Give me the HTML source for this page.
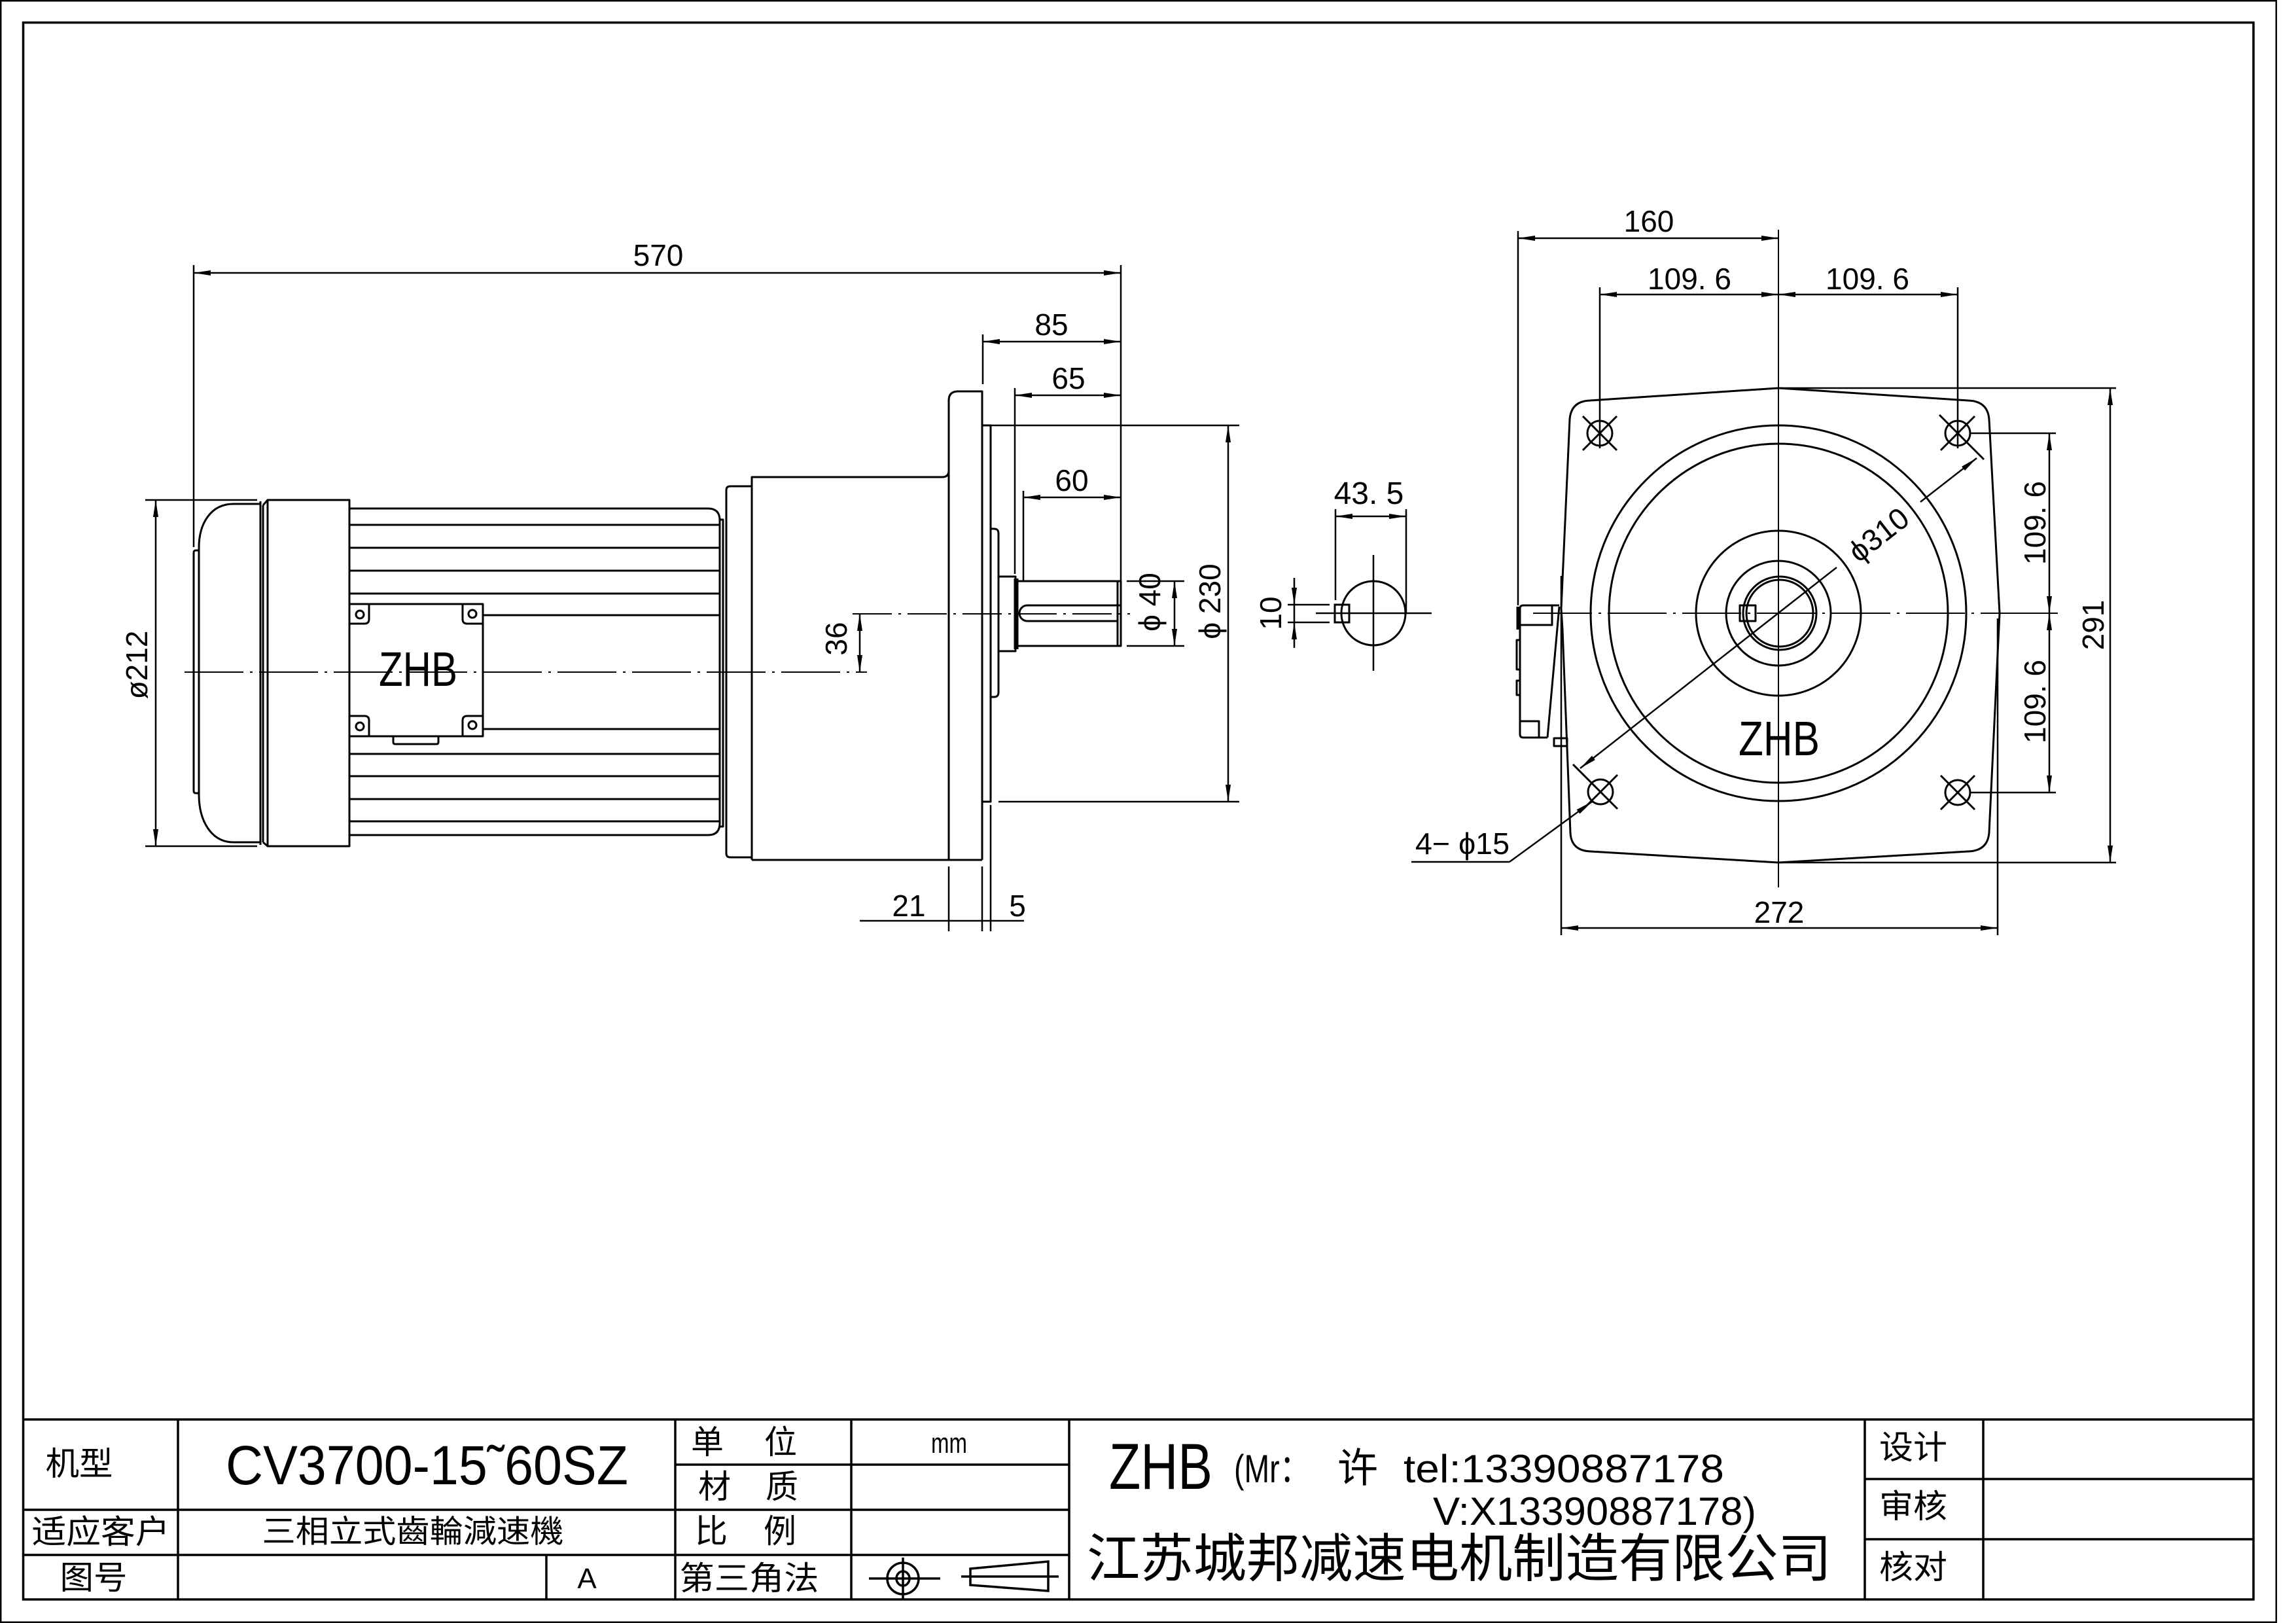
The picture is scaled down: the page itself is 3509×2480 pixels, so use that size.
<!DOCTYPE html>
<html><head><meta charset="utf-8">
<style>
html,body{margin:0;padding:0;background:#fff;}
svg{display:block;}
text{font-family:"Liberation Sans","DejaVu Sans",sans-serif;fill:#000;}
.cjk{font-family:"Liberation Sans","Noto Sans CJK SC","WenQuanYi Zen Hei",sans-serif;}
</style></head><body>
<svg width="3509" height="2480" viewBox="0 0 3509 2480" xmlns="http://www.w3.org/2000/svg">
<defs>
<marker id="a" viewBox="0 0 26 8" refX="26" refY="4" markerWidth="26" markerHeight="8" markerUnits="userSpaceOnUse" orient="auto-start-reverse"><path d="M0 0L26 4L0 8z" fill="#000"/></marker>
</defs>
<rect width="3509" height="2480" fill="#fff"/>

<!-- FRAME -->
<rect x="1.2" y="1.2" width="3477.6" height="2477.6" fill="none" stroke="#000" stroke-width="2.5"/>
<rect x="35.5" y="34.5" width="3408.5" height="2409.5" fill="none" stroke="#000" stroke-width="3.5"/>

<!-- TITLE BLOCK -->
<g stroke="#000" stroke-width="3.5" fill="none">
<path d="M35.5 2169H3444 M272 2169V2444 M835 2376V2444 M1032 2169V2444 M1301 2169V2444 M1634 2169V2444 M35.5 2307H1634 M35.5 2376H1634 M1032 2238H1634 M2850 2169V2444 M3031 2169V2444 M2850 2260H3444 M2850 2352H3444"/>
</g>
<g stroke="#000" stroke-width="3.5" fill="none">
<ellipse cx="1380" cy="2412" rx="24" ry="24"/>
<ellipse cx="1380" cy="2412" rx="10" ry="11"/>
<path d="M1328 2412H1437 M1380 2380V2443"/>
<path d="M1483 2397L1602 2386V2431L1483 2422Z M1469 2409H1618"/>
</g>
<g class="cjk" font-size="50" text-anchor="middle" dominant-baseline="central">
<text x="121" y="2237" class="cjk" textLength="103" lengthAdjust="spacingAndGlyphs">机型</text>
<text x="1081" y="2204" class="cjk">单</text>
<text x="1193" y="2204" class="cjk">位</text>
<text x="1092" y="2272" class="cjk">材</text>
<text x="1195" y="2272" class="cjk">质</text>
<text x="1087" y="2340" class="cjk">比</text>
<text x="1192" y="2340" class="cjk">例</text>
<text x="154" y="2341" class="cjk" textLength="211" lengthAdjust="spacingAndGlyphs">适应客户</text>
<text x="631" y="2341" class="cjk" font-size="48" textLength="461" lengthAdjust="spacingAndGlyphs">三相立式齒輪減速機</text>
<text x="143" y="2411" class="cjk" textLength="103" lengthAdjust="spacingAndGlyphs">图号</text>
<text x="1145" y="2412" class="cjk" textLength="213" lengthAdjust="spacingAndGlyphs">第三角法</text>
<text x="2924" y="2212" class="cjk" textLength="104" lengthAdjust="spacingAndGlyphs">设计</text>
<text x="2924" y="2302" class="cjk" textLength="104" lengthAdjust="spacingAndGlyphs">审核</text>
<text x="2924" y="2395" class="cjk" textLength="104" lengthAdjust="spacingAndGlyphs">核对</text>
<text x="2230" y="2382" class="cjk" font-size="80" textLength="1138" lengthAdjust="spacingAndGlyphs">江苏城邦减速电机制造有限公司</text>
</g>
<text x="345" y="2268" font-size="84" textLength="615" lengthAdjust="spacingAndGlyphs">CV3700-15˜60SZ</text>
<text x="1423" y="2220" font-size="44" textLength="55" lengthAdjust="spacingAndGlyphs">mm</text>
<text x="897" y="2427" font-size="44" text-anchor="middle">A</text>
<text x="1695" y="2275" font-size="99" textLength="158" lengthAdjust="spacingAndGlyphs">ZHB</text>
<text x="1886" y="2265" font-size="60" class="cjk" textLength="116" lengthAdjust="spacingAndGlyphs">(Mr：</text>
<text x="2075" y="2244" font-size="62" class="cjk" text-anchor="middle" dominant-baseline="central">许</text>
<text x="2145" y="2265" font-size="60" textLength="490" lengthAdjust="spacingAndGlyphs">tel:13390887178</text>
<text x="2190" y="2330" font-size="60" textLength="494" lengthAdjust="spacingAndGlyphs">V:X13390887178)</text>

<!-- ================= LEFT VIEW ================= -->
<g stroke="#000" stroke-width="3" fill="none" stroke-linejoin="round">
<!-- fan cover -->
<path d="M304 841H299Q296 841 296 845V1208Q296 1212 299 1212H304"/>
<path d="M397 770H357C322 770 304 800 304 837V1214C304 1253 322 1287 357 1287H397"/>
<path d="M398 766V1291 M402 772V1287 M402 772L409 764 M402 1287L409 1293"/>
<rect x="409" y="764" width="125" height="529"/>
<!-- motor body -->
<path d="M534 777H1082Q1100 777 1100 795V1258Q1100 1276 1082 1276H534"/>
<path d="M534 802H1100 M534 837H1100 M534 872H1100 M534 907H1100 M738 940H1100 M738 1114H1100 M534 1152H1100 M534 1186H1100 M534 1221H1100 M534 1255H1100"/>
<path d="M1100 794H1105V1263H1100"/>
<!-- terminal box -->
<path d="M534 923H738V1125H534Z"/>
<path d="M534 953H557Q564 953 564 946V923"/>
<path d="M738 953H714Q707 953 707 946V923"/>
<path d="M534 1094H557Q564 1094 564 1101V1125"/>
<path d="M738 1094H714Q707 1094 707 1101V1125"/>
<circle cx="550" cy="939" r="6"/>
<circle cx="722" cy="938" r="6"/>
<circle cx="550" cy="1110" r="6"/>
<circle cx="722" cy="1108" r="6"/>
<path d="M601 1125V1134Q601 1137 604 1137H667Q670 1137 670 1134V1125"/>
<!-- adapter & gearbox -->
<path d="M1149 743H1116Q1110 743 1110 749V1304Q1110 1310 1116 1310H1149"/>
<path d="M1149 1314V729H1440Q1450 729 1450 719"/>
<path d="M1450 1314V612Q1450 598 1464 598H1501V1314 M1149 1314H1501"/>
<!-- plate, boss, collar, shaft -->
<path d="M1501 650H1514V1225H1501"/>
<path d="M1514 808H1519Q1526 808 1526 815V1058Q1526 1065 1519 1065H1514"/>
<rect x="1526" y="881" width="26" height="114"/>
<rect x="1552" y="888" width="161" height="99"/>
<path d="M1708 888V987 M1570 925H1713 M1570 949H1708 M1570 925A12 12 0 0 0 1570 949"/>
</g>
<path d="M1553 884V992" stroke="#000" stroke-width="7"/>
<text x="639" y="1048" font-size="74" text-anchor="middle" textLength="120" lengthAdjust="spacingAndGlyphs">ZHB</text>

<!-- centerlines left -->
<g stroke="#000" stroke-width="2" fill="none">
<path d="M282 1027H1325" stroke-dasharray="90 10 4 10"/>
<path d="M1303 938H1727" stroke-dasharray="60 10 4 10"/>
</g>

<!-- dimensions left -->
<g stroke="#000" stroke-width="2.5" fill="none">
<line x1="296" y1="417" x2="1713" y2="417" marker-start="url(#a)" marker-end="url(#a)"/>
<path d="M296 405V836 M1713 405V888"/>
<line x1="1502" y1="522" x2="1713" y2="522" marker-start="url(#a)" marker-end="url(#a)"/>
<path d="M1502 511V587"/>
<line x1="1551" y1="604" x2="1713" y2="604" marker-start="url(#a)" marker-end="url(#a)"/>
<path d="M1551 593V877"/>
<line x1="1564" y1="760" x2="1713" y2="760" marker-start="url(#a)" marker-end="url(#a)"/>
<path d="M1564 750V888"/>
<line x1="1314" y1="938" x2="1314" y2="1027" marker-start="url(#a)" marker-end="url(#a)"/>
<line x1="1795" y1="888" x2="1795" y2="987" marker-start="url(#a)" marker-end="url(#a)"/>
<path d="M1722 888H1810 M1722 987H1810"/>
<line x1="1877" y1="650" x2="1877" y2="1225" marker-start="url(#a)" marker-end="url(#a)"/>
<path d="M1514 650H1894 M1526 1225H1894"/>
<path d="M1314 1407H1565 M1450 1324V1423 M1501 1324V1423 M1514 1230V1423"/>
<line x1="238" y1="764" x2="238" y2="1293" marker-start="url(#a)" marker-end="url(#a)"/>
<path d="M222 764H393 M222 1293H393"/>
</g>
<g font-size="46" text-anchor="middle">
<text x="1006" y="406">570</text>
<text x="1607" y="512">85</text>
<text x="1633" y="594">65</text>
<text x="1638" y="750">60</text>
<text x="1389" y="1400">21</text>
<text x="1555" y="1400">5</text>
<text transform="translate(225 1016) rotate(-90)">ø212</text>
<text transform="translate(1294 976) rotate(-90)">36</text>
<text transform="translate(1773 920) rotate(-90)">ϕ 40</text>
<text transform="translate(1865 919) rotate(-90)">ϕ 230</text>
</g>

<!-- ================= KEY VIEW ================= -->
<g stroke="#000" stroke-width="3" fill="none">
<circle cx="2099" cy="937" r="49"/>
<rect x="2040" y="924" width="22" height="27"/>
</g>
<g stroke="#000" stroke-width="2.5" fill="none">
<path d="M2099 848V1025 M2011 937H2188"/>
<path d="M2041 778V917 M2149 778V937"/>
<line x1="2041" y1="789" x2="2149" y2="789" marker-start="url(#a)" marker-end="url(#a)"/>
<path d="M1968 924H2032 M1968 951H2032"/>
<line x1="1978" y1="883" x2="1978" y2="924" marker-end="url(#a)"/>
<line x1="1978" y1="990" x2="1978" y2="951" marker-end="url(#a)"/>
<path d="M1978 924V951"/>
</g>
<text x="2092" y="770" font-size="48" text-anchor="middle">43. 5</text>
<text transform="translate(1958 937) rotate(-90)" font-size="46" text-anchor="middle" dominant-baseline="auto">10</text>

<!-- ================= RIGHT VIEW ================= -->
<g stroke="#000" stroke-width="3" fill="none" stroke-linejoin="round">
<path d="M2399 641Q2401 613 2430 612L2718 593L3008 612Q3038 613 3040 641L3056 937L3040 1272Q3038 1300 3008 1301L2718 1318L2431 1301Q2401 1300 2400 1272L2388 962L2386 930Z"/>
<circle cx="2718" cy="937" r="287"/>
<circle cx="2718" cy="937" r="259"/>
<circle cx="2718" cy="937" r="126"/>
<circle cx="2718" cy="937" r="80"/>
<circle cx="2720" cy="937" r="56"/>
<circle cx="2720" cy="937" r="51"/>
<rect x="2659" y="925" width="24" height="24"/>
<!-- holes -->
<circle cx="2445" cy="662" r="19"/>
<circle cx="2992" cy="662" r="19"/>
<circle cx="2446" cy="1210" r="19"/>
<circle cx="2992" cy="1211" r="19"/>
<path d="M2419 636L2471 688 M2471 636L2419 688"/>
<path d="M2964 634L3032 702 M3018 636L2966 688"/>
<path d="M2404 1168L2472 1236 M2472 1184L2420 1236"/>
<path d="M2966 1185L3018 1237 M3018 1185L2966 1237"/>
<!-- terminal box side -->
<path d="M2383 925H2328Q2323 925 2323 930V1122Q2323 1127 2328 1127H2365 M2383 927L2365 1127"/>
<path d="M2372 925V955H2323 M2323 1102H2352V1127"/>
<rect x="2375" y="1128" width="20" height="12"/>
<rect x="2318" y="978" width="5" height="45"/>
<rect x="2318" y="1040" width="5" height="22"/>
</g>
<path d="M2321 927V962" stroke="#000" stroke-width="7"/>
<text x="2719" y="1154" font-size="74" text-anchor="middle" textLength="124" lengthAdjust="spacingAndGlyphs">ZHB</text>

<!-- centerlines right -->
<g stroke="#000" stroke-width="2" fill="none">
<path d="M2718 351V1356"/>
<path d="M2343 937H3056" stroke-dasharray="90 10 4 10"/>
<path d="M3056 937H3145"/>
</g>

<!-- dimensions right -->
<g stroke="#000" stroke-width="2.5" fill="none">
<line x1="2320" y1="364" x2="2718" y2="364" marker-start="url(#a)" marker-end="url(#a)"/>
<path d="M2320 353V925"/>
<line x1="2445" y1="450" x2="2718" y2="450" marker-start="url(#a)" marker-end="url(#a)"/>
<line x1="2718" y1="450" x2="2992" y2="450" marker-start="url(#a)" marker-end="url(#a)"/>
<path d="M2445 439V685 M2992 439V685"/>
<line x1="3132" y1="662" x2="3132" y2="937" marker-start="url(#a)" marker-end="url(#a)"/>
<line x1="3132" y1="937" x2="3132" y2="1211" marker-start="url(#a)" marker-end="url(#a)"/>
<path d="M3012 662H3142 M3012 1211H3142"/>
<line x1="3225" y1="593" x2="3225" y2="1318" marker-start="url(#a)" marker-end="url(#a)"/>
<path d="M2718 593H3234 M2718 1318H3234"/>
<line x1="2386" y1="1418" x2="3053" y2="1418" marker-start="url(#a)" marker-end="url(#a)"/>
<path d="M2386 880V1429 M3053 945V1429"/>
<line x1="2807" y1="867" x2="2415" y2="1174" marker-end="url(#a)"/>
<line x1="2935" y1="767" x2="3021" y2="700" marker-end="url(#a)"/>
<line x1="2307" y1="1317" x2="2433" y2="1225" marker-end="url(#a)"/>
<path d="M2157 1317H2307"/>
</g>
<g font-size="46" text-anchor="middle">
<text x="2520" y="354">160</text>
<text x="2582" y="442">109. 6</text>
<text x="2854" y="442">109. 6</text>
<text x="2719" y="1410">272</text>
<text transform="translate(3126 799) rotate(-90)">109. 6</text>
<text transform="translate(3126 1072) rotate(-90)">109. 6</text>
<text transform="translate(3215 955) rotate(-90)">291</text>
<text transform="translate(2871 817) rotate(-38)" dominant-baseline="central">ϕ310</text>
</g>
<text x="2163" y="1305" font-size="46" textLength="144" lengthAdjust="spacingAndGlyphs">4− ϕ15</text>
</svg>
</body></html>
